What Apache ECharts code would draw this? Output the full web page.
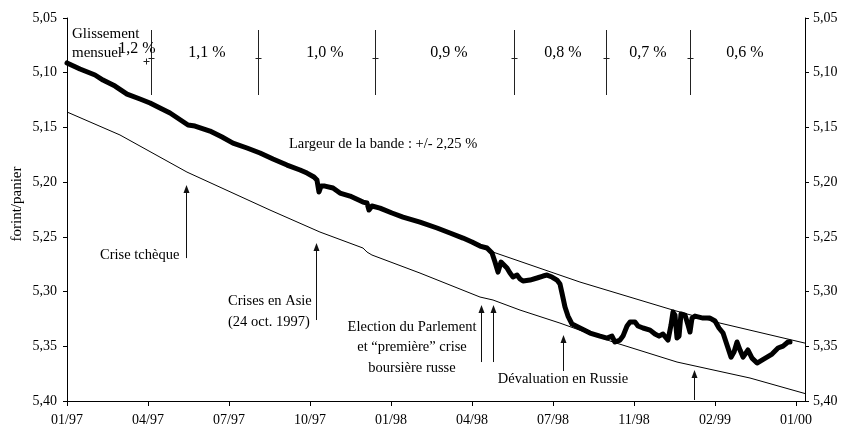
<!DOCTYPE html>
<html><head><meta charset="utf-8">
<script src="https://cdn.jsdelivr.net/npm/echarts@6/dist/echarts.min.js"></script>
<style>html,body{margin:0;padding:0;background:#fff}#c{width:841px;height:432px}</style>
</head><body><div id="c"></div>
<script>
// x unit: 10 units between consecutive tick labels
const xLabels = ['01/97','04/97','07/97','10/97','01/98','04/98','07/98','11/98','02/99','01/00'];
const yLabels = ['5,05','5,10','5,15','5,20','5,25','5,30','5,35','5,40'];

const rate = [[0,5.0911],[1.60,5.0966],[3.46,5.1021],[4.44,5.1067],[5.93,5.1122],[7.41,5.1195],[9.01,5.1240],[10.25,5.1277],[11.48,5.1323],[12.72,5.1368],[14.20,5.1441],[14.94,5.1478],[15.80,5.1487],[17.65,5.1533],[19.14,5.1588],[20.49,5.1643],[22.22,5.1688],[23.83,5.1734],[25.43,5.1789],[27.16,5.1844],[28.77,5.1889],[29.63,5.1917],[30.49,5.1953],[30.86,5.1981],[31.11,5.2090],[31.36,5.2036],[31.85,5.2036],[32.84,5.2054],[33.70,5.2100],[34.94,5.2127],[36.54,5.2182],[37.04,5.2191],[37.28,5.2255],[37.65,5.2218],[38.64,5.2237],[40.12,5.2282],[41.48,5.2319],[43.58,5.2365],[45.68,5.2419],[47.28,5.2465],[48.89,5.2511],[50.00,5.2547],[50.99,5.2584],[51.85,5.2602],[52.47,5.2648],[52.84,5.2730],[53.21,5.2822],[53.58,5.2730],[53.95,5.2758],[54.32,5.2785],[54.69,5.2831],[55.06,5.2867],[55.56,5.2849],[55.93,5.2885],[56.30,5.2904],[57.16,5.2895],[58.02,5.2876],[58.77,5.2858],[59.26,5.2849],[59.88,5.2867],[60.49,5.2895],[60.86,5.2931],[61.11,5.3014],[61.48,5.3141],[61.85,5.3224],[62.35,5.3297],[63.33,5.3333],[64.57,5.3379],[65.80,5.3407],[66.67,5.3425],[67.28,5.3407],[67.65,5.3461],[68.27,5.3443],[68.64,5.3407],[69.14,5.3315],[69.51,5.3279],[70.12,5.3279],[70.49,5.3315],[71.11,5.3333],[71.98,5.3352],[72.59,5.3388],[73.09,5.3407],[73.58,5.3388],[74.20,5.3443],[74.57,5.3306],[74.81,5.3187],[75.06,5.3215],[75.31,5.3425],[75.56,5.3407],[75.80,5.3205],[76.30,5.3215],[76.67,5.3306],[76.91,5.3370],[77.16,5.3242],[77.53,5.3224],[78.52,5.3242],[79.38,5.3242],[80.00,5.3269],[80.49,5.3333],[80.99,5.3379],[81.48,5.3489],[81.98,5.3599],[82.35,5.3553],[82.72,5.3461],[83.09,5.3534],[83.46,5.3599],[84.07,5.3534],[84.57,5.3608],[85.19,5.3653],[85.80,5.3626],[86.42,5.3599],[87.04,5.3571],[87.78,5.3516],[88.40,5.3498],[89.01,5.3461],[89.26,5.3461]];

const lowerBand = [[0,5.1359],[6.54,5.1569],[14.81,5.1908],[25.06,5.2255],[31.23,5.2456],[36.54,5.2602],[37.04,5.2639],[37.65,5.2666],[43.58,5.2831],[50.99,5.3050],[52.59,5.3077],[55.93,5.3169],[60.86,5.3288],[67.41,5.3461],[75.31,5.3644],[84.32,5.3790],[91.11,5.3932]];

const upperBand = [[51.85,5.2620],[63.33,5.2913],[74.81,5.3169],[80.62,5.3288],[91.11,5.3471]];

const regimeBreaks = [[10.37],[23.58],[38.02],[55.19],[66.54],[76.91]];
const loneCross = [[9.75,5.0893]];
const slideRates = ['1,2 %','1,1 %','1,0 %','0,9 %','0,8 %','0,7 %','0,6 %'];
// [x, tip value, base value]
const eventArrows = [[14.69,5.2026,5.2694],[30.74,5.2557,5.3260],[51.11,5.3123,5.3644],[52.59,5.3123,5.3644],[61.23,5.3397,5.3726],[77.41,5.3717,5.3991]];

const FONT = '"Liberation Serif","Times New Roman",serif';
const ratePos = [[137,49],[207,53],[325,53],[449,53],[563,53],[648,53],[745,53]];

function txt(text, x, y, size, align) {
  return {type:'text', x:x, y:y, z:100, style:{text:text, font: size+'px '+FONT, fill:'#000', align:align||'left', verticalAlign:'middle'}};
}

const graphics = [];
slideRates.forEach((t,i)=>graphics.push(txt(t, ratePos[i][0], ratePos[i][1], 16, 'center')));
graphics.push(txt('Glissement', 72, 34, 15));
graphics.push(txt('mensuel', 72, 53, 15));
graphics.push(txt('Largeur de la bande : +/- 2,25 %', 289, 144, 14.5));
graphics.push(txt('Crise tchèque', 100, 255, 14.5));
graphics.push(txt('Crises en Asie', 228, 301, 14.5));
graphics.push(txt('(24 oct. 1997)', 228, 322, 14.5));
graphics.push(txt('Election du Parlement', 412, 327, 14.5, 'center'));
graphics.push(txt('et \u201cpremière\u201d crise', 412, 347, 14.5, 'center'));
graphics.push(txt('boursière russe', 412, 368, 14.5, 'center'));
graphics.push(txt('Dévaluation en Russie', 563, 379, 14.5, 'center'));
graphics.push({type:'text', x:17, y:204, rotation:Math.PI/2, style:{text:'forint/panier', font:'15px '+FONT, fill:'#000', align:'center', verticalAlign:'middle'}});

const yAxisBase = {
  type:'value', min:5.05, max:5.40, interval:0.05, inverse:true,
  splitLine:{show:false},
  axisLine:{show:true, lineStyle:{color:'#000', width:1}},
  axisTick:{show:true, length:4, lineStyle:{color:'#000'}},
  axisLabel:{color:'#000', fontFamily:FONT, fontSize:14,
    formatter: v => yLabels[Math.round((v-5.05)/0.05)] || ''}
};

const chart = echarts.init(document.getElementById('c'), null, {renderer:'canvas'});
chart.setOption({
  animation:false,
  backgroundColor:'#fff',
  grid:{left:67, right:36, top:18, bottom:31, outerBoundsMode:'none'},
  xAxis:{type:'value', min:0, max:91.11, interval:10,
    splitLine:{show:false},
    axisLine:{show:true, onZero:false, lineStyle:{color:'#000', width:1}},
    axisTick:{show:true, length:5, lineStyle:{color:'#000'}},
    axisLabel:{color:'#000', fontFamily:FONT, fontSize:14, margin:12, showMaxLabel:false,
      formatter: v => { const i = Math.round(v/10); return Math.abs(v-i*10) < 1e-6 ? (xLabels[i]||'') : ''; }}
  },
  yAxis:[
    Object.assign({}, yAxisBase, {position:'left', axisLabel:Object.assign({}, yAxisBase.axisLabel, {margin:10})}),
    Object.assign({}, yAxisBase, {position:'right', axisLabel:Object.assign({}, yAxisBase.axisLabel, {margin:8})})
  ],
  graphic: graphics,
  series:[
    {type:'line', data:lowerBand, showSymbol:false, symbol:'none', lineStyle:{color:'#000', width:1}, z:2},
    {type:'line', data:upperBand, showSymbol:false, symbol:'none', lineStyle:{color:'#000', width:1}, z:2},
    {type:'line', data:rate, showSymbol:false, symbol:'none', lineStyle:{color:'#000', width:5, join:'round', cap:'round'}, z:3},
    {type:'custom', data:regimeBreaks, z:4, clip:false,
      renderItem:(params, api) => {
        const p = api.coord([api.value(0), 5.05]);
        const x = Math.round(p[0]) + 0.5;
        return {type:'group', children:[
          {type:'line', shape:{x1:x, y1:30, x2:x, y2:95}, style:{stroke:'#222', lineWidth:1}},
          {type:'line', shape:{x1:x-3, y1:58.5, x2:x+3, y2:58.5}, style:{stroke:'#222', lineWidth:1}}
        ]};
      }},
    {type:'custom', data:loneCross, z:4, clip:false,
      renderItem:(params, api) => {
        const p = api.coord([api.value(0), api.value(1)]);
        const x = Math.round(p[0]) + 0.5, y = Math.round(p[1]) + 0.5;
        return {type:'group', children:[
          {type:'line', shape:{x1:x, y1:y-3, x2:x, y2:y+3}, style:{stroke:'#222', lineWidth:1}},
          {type:'line', shape:{x1:x-3, y1:y, x2:x+3, y2:y}, style:{stroke:'#222', lineWidth:1}}
        ]};
      }},
    {type:'custom', data:eventArrows, z:4, clip:false,
      renderItem:(params, api) => {
        const tip = api.coord([api.value(0), api.value(1)]);
        const base = api.coord([api.value(0), api.value(2)]);
        const x = Math.round(tip[0]) + 0.5;
        return {type:'group', children:[
          {type:'line', shape:{x1:x, y1:tip[1]+6, x2:x, y2:base[1]}, style:{stroke:'#111', lineWidth:1}},
          {type:'polygon', shape:{points:[[x, tip[1]], [x-3, tip[1]+8], [x+3, tip[1]+8]]}, style:{fill:'#111'}}
        ]};
      }}
  ]
});
</script>
</body></html>
